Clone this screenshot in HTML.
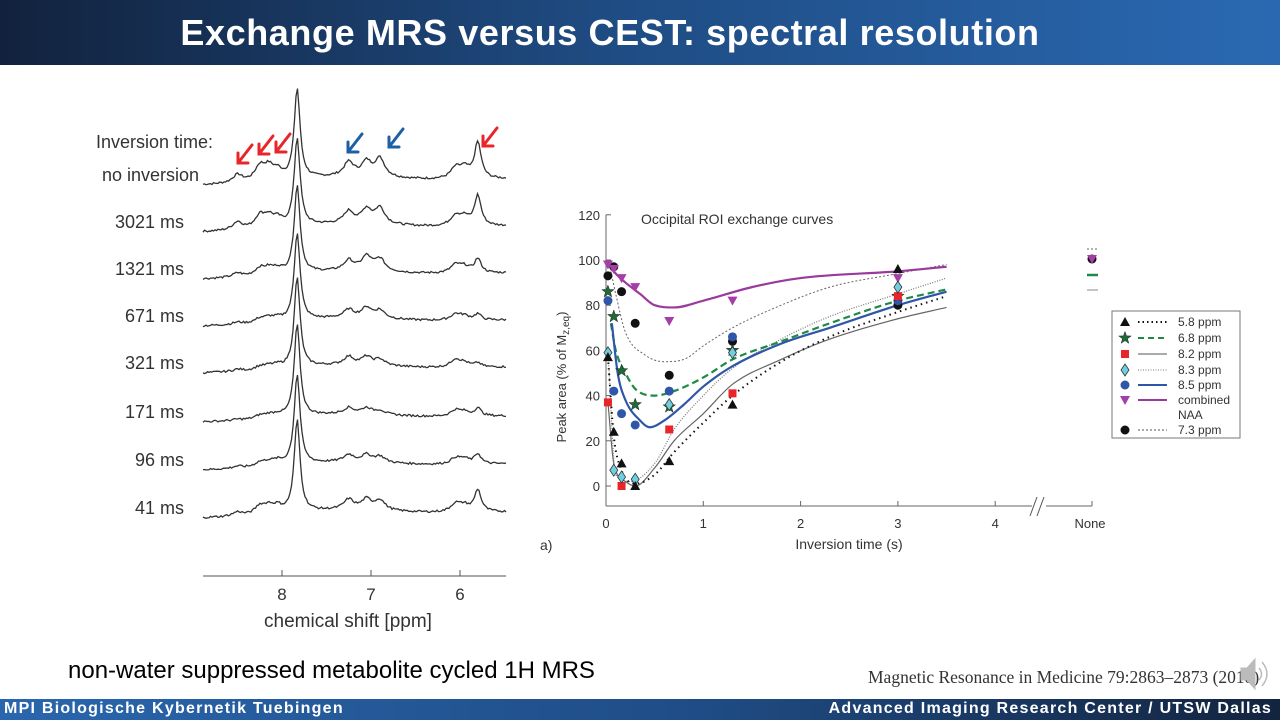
<!DOCTYPE html>
<html><head><meta charset="utf-8">
<style>
html,body{margin:0;padding:0;}
body{width:1280px;height:720px;position:relative;overflow:hidden;background:#fff;font-family:"Liberation Sans",sans-serif;}
#hdr{position:absolute;left:0;top:0;width:1280px;height:65px;background:linear-gradient(90deg,#12223d 0%,#1e4a80 45%,#2a69b2 100%);}
#title{position:absolute;left:0;width:1220px;top:12px;text-align:center;color:#fff;font-weight:bold;font-size:36px;letter-spacing:0.6px;}
#ftr{position:absolute;left:0;top:699px;width:1280px;height:21px;background:linear-gradient(90deg,#2a66ae 0%,#1f4c85 55%,#13243f 100%);}
.ft{position:absolute;top:1px;color:#fff;font-weight:bold;font-size:16px;letter-spacing:1.25px;}
#sub{position:absolute;left:68px;top:657px;font-size:24px;color:#000;}
#cite{position:absolute;left:868px;top:667px;font-family:"Liberation Serif",serif;font-size:17.5px;color:#333;}
svg{position:absolute;left:0;top:0;}
</style></head><body>
<div id="hdr"><div id="title">Exchange MRS versus CEST: spectral resolution</div></div>
<div id="sub">non-water suppressed metabolite cycled 1H MRS</div>
<div id="cite">Magnetic Resonance in Medicine 79:2863–2873 (2018)</div>
<div id="ftr">
<div class="ft" style="left:4px">MPI Biologische Kybernetik Tuebingen</div>
<div class="ft" style="right:8px">Advanced Imaging Research Center / UTSW Dallas</div>
</div>
<svg id="cv" width="1280" height="720"></svg>
<script>
// ---------- spectra data ----------
const traceLabels=["no inversion","3021 ms","1321 ms","671 ms","321 ms","171 ms","96 ms","41 ms"];
const traceBase=[185,232,279,326,373,422,470,518];
const peakPpm=[8.5,8.25,8.15,8.05,7.83,7.25,7.05,6.9,6.05,5.95,5.8];
const peakHeights=[
[8,14,12,8,90,14,14,18,10,10,36],
[8,12,10,7,88,12,14,16,10,8,30],
[4,7,6,5,88,10,14,12,8,6,14],
[2,4,4,3,88,8,10,8,6,4,6],
[2,3,3,3,90,8,8,6,8,4,4],
[1,3,3,3,92,6,6,4,6,4,8],
[2,4,4,4,90,7,7,6,6,5,10],
[4,8,7,6,92,10,10,10,8,6,22]];
// ---------- exchange curve data ----------
const tPts=[0.02,0.08,0.16,0.3,0.65,1.3,3];
const yTicks=[0,20,40,60,80,100,120];
const xTicks=[0,1,2,3,4];
const s58=[57,24,10,0,11,36,96];
const s68=[86,75,51,36,35,60,84];
const s82T=[0.02,0.16,0.65,1.3,3];
const s82=[37,0,25,41,84];
const s83=[59,7,4,3,36,59,88];
const s85=[82,42,32,27,42,66,82];
const sComb=[98,96,92,88,73,82,92];
const s73=[93,97,86,72,49,64,80];
const fT58=[0.02,0.08,0.15,0.3,0.5,0.7,1,1.3,1.8,2.3,3,3.5];
const fV58=[57,22,8,1,5,15,28,40,55,66,77,84];
const fT68=[0.05,0.1,0.2,0.3,0.5,0.7,1,1.3,1.8,2.3,3,3.5];
const fV68=[72,60,50,43,40,42,48,56,64,72,82,87];
const fT82=[0.02,0.08,0.2,0.3,0.5,0.7,1,1.3,1.8,2.3,3,3.5];
const fV82=[37,10,2,0,8,20,32,45,56,65,74,79];
const fT83=[0.02,0.1,0.25,0.5,0.7,1,1.3,1.8,2.3,3,3.5];
const fV83=[60,5,2,10,25,40,52,65,75,85,92];
const fT85=[0.06,0.12,0.2,0.35,0.45,0.6,0.8,1,1.3,1.8,2.3,3,3.5];
const fV85=[72,50,38,29,26,29,36,44,53,63,70,80,86];
const fTC=[0.02,0.1,0.2,0.35,0.5,0.7,1,1.5,2,3,3.5];
const fVC=[98,94,90,85,80,79,82,88,92,95,97];
const fT73=[0.05,0.1,0.2,0.4,0.6,0.8,1,1.3,1.8,2.3,3,3.5];
const fV73=[95,85,68,58,55,56,62,70,80,88,94,98];

const NS="http://www.w3.org/2000/svg";
const svg=document.getElementById('cv');
function mk(tag,at,parent){const e=document.createElementNS(NS,tag);for(const k in at)e.setAttribute(k,at[k]);(parent||svg).appendChild(e);return e;}
function tx(x,y,s,size,anchor,fill,parent){const e=mk('text',{x:x,y:y,'font-size':size,'text-anchor':anchor||'start',fill:fill||'#333','font-family':'"Liberation Sans",sans-serif'},parent);e.textContent=s;return e;}

// ---------- spectra ----------
const gS=mk('g',{});


const ppmX=p=>282+(8-p)*89;
let seed=7;function rnd(){seed=(seed*9301+49297)%233280;return seed/233280-0.5;}
traceLabels.forEach((lab,i)=>{
  let d='';
  for(let x=203;x<=507;x+=1.5){
    let y=0;
    peakPpm.forEach((p,j)=>{const w=(j==4?3.5:(j==10?4:6));const dx=(x-ppmX(p))/w;y+=peakHeights[i][j]/(1+dx*dx);});
    y+=5*Math.exp(-Math.pow((x-340)/70,2))+(x-203)*0.02;
    y+=rnd()*2;
    d+=(d?'L':'M')+x.toFixed(1)+' '+(traceBase[i]-y).toFixed(1);
  }
  const p=mk('path',{d:d,fill:'none',stroke:'#333','stroke-width':1.3},gS);
  
  
  const t=tx(i==0?199:184,traceBase[i]-4,lab,18,'end','#333',gS);
  
  
});
const it=tx(96,148,'Inversion time:',18,'start','#333',gS);


mk('line',{x1:203,y1:576,x2:506,y2:576,stroke:'#555','stroke-width':1},gS);
[8,7,6].forEach(p=>{mk('line',{x1:ppmX(p),y1:576,x2:ppmX(p),y2:570,stroke:'#555'},gS);const t=tx(ppmX(p),600,String(p),17,'middle','#333',gS);});
const xl=tx(348,627,'chemical shift [ppm]',19,'middle','#333',gS);


function arrow(x,y,col){const g=mk('g',{stroke:col,'stroke-width':3,fill:'none','stroke-linecap':'round'},gS);
 
 
 mk('line',{x1:x+14,y1:y-18,x2:x,y2:y},g);mk('polyline',{points:(x)+','+(y-10)+' '+x+','+y+' '+(x+10)+','+y},g);}
arrow(238,163,'#e8262a');arrow(259,154,'#e8262a');arrow(276,152,'#e8262a');arrow(483,146,'#e8262a');
arrow(348,152,'#1d5fa5');arrow(389,147,'#1d5fa5');

// ---------- exchange chart ----------
const gC=mk('g',{});


const X=t=>606+t*97.3, Y=v=>486-v*2.26;
mk('line',{x1:606,y1:Y(120),x2:606,y2:506,stroke:'#666'},gC);
mk('line',{x1:606,y1:506,x2:1032,y2:506,stroke:'#666'},gC);
mk('line',{x1:1046,y1:506,x2:1092,y2:506,stroke:'#666'},gC);
mk('line',{x1:1030,y1:516,x2:1037,y2:497,stroke:'#555'},gC);
mk('line',{x1:1037,y1:516,x2:1044,y2:497,stroke:'#555'},gC);
yTicks.forEach(v=>{mk('line',{x1:606,y1:Y(v),x2:611,y2:Y(v),stroke:'#666'},gC);const t=tx(600,Y(v)+5,String(v),13,'end','#333',gC);});
xTicks.forEach(v=>{mk('line',{x1:X(v),y1:506,x2:X(v),y2:501,stroke:'#666'},gC);const t=tx(X(v),528,String(v),13,'middle','#333',gC);});
mk('line',{x1:1092,y1:506,x2:1092,y2:501,stroke:'#666'},gC);
const nn=tx(1090,528,'None',13,'middle','#333',gC);
const xt=tx(849,549,'Inversion time (s)',14,'middle','#333',gC);
const al=tx(540,550,'a)',14,'start','#333',gC);
const ct=tx(641,224,'Occipital ROI exchange curves',14,'start','#333',gC);
const yt=mk('text',{x:0,y:0,'font-size':13,fill:'#333','text-anchor':'middle',transform:'translate(566,377) rotate(-90)','font-family':'"Liberation Sans",sans-serif'},gC);
yt.innerHTML='Peak area (% of M<tspan font-size="10" dy="3">z,eq</tspan><tspan dy="-3">)</tspan>';



// monotone cubic interpolation in data space
function curve(ts,vs,col,w,dash,name){
 const n=ts.length,dl=[],m=[];
 for(let i=0;i<n-1;i++)dl.push((vs[i+1]-vs[i])/(ts[i+1]-ts[i]));
 m[0]=dl[0];m[n-1]=dl[n-2];
 for(let i=1;i<n-1;i++)m[i]=(dl[i-1]*dl[i]<=0)?0:(dl[i-1]+dl[i])/2;
 for(let i=0;i<n-1;i++){if(dl[i]==0){m[i]=m[i+1]=0;continue;}const a=m[i]/dl[i],b=m[i+1]/dl[i],s=a*a+b*b;if(s>9){const t=3/Math.sqrt(s);m[i]=t*a*dl[i];m[i+1]=t*b*dl[i];}}
 let d='M'+X(ts[0])+' '+Y(vs[0]);
 for(let i=0;i<n-1;i++){const h=ts[i+1]-ts[i];
  d+='C'+X(ts[i]+h/3)+' '+Y(vs[i]+m[i]*h/3)+' '+X(ts[i+1]-h/3)+' '+Y(vs[i+1]-m[i+1]*h/3)+' '+X(ts[i+1])+' '+Y(vs[i+1]);}
 const e=mk('path',{d:d,fill:'none',stroke:col,'stroke-width':w,'stroke-dasharray':dash||'none'},gC);
 
 }
curve(fT73,fV73,'#666',1,'2,2','fit-7-3ppm');
curve(fT82,fV82,'#666',1.2,'','fit-8-2ppm');
curve(fT83,fV83,'#777',1.2,'1,1.5','fit-8-3ppm');
curve(fT58,fV58,'#111',2,'1.5,4','fit-5-8ppm');
curve(fT68,fV68,'#1f8a44',2.2,'7,4','fit-6-8ppm');
curve(fT85,fV85,'#2f56a8',2.2,'','fit-8-5ppm');
curve(fTC,fVC,'#9a3a9e',2.2,'','fit-combined');

function marker(type,x,y,parent){let e;
 if(type=='tri')e=mk('polygon',{points:`${x},${y-5} ${x-5},${y+4} ${x+5},${y+4}`,fill:'#111'},parent);
 else if(type=='itri')e=mk('polygon',{points:`${x-5},${y-4} ${x+5},${y-4} ${x},${y+5}`,fill:'#a63ea8'},parent);
 else if(type=='sq')e=mk('rect',{x:x-4,y:y-4,width:8,height:8,fill:'#e8262a'},parent);
 else if(type=='dia')e=mk('polygon',{points:`${x},${y-6} ${x+4},${y} ${x},${y+6} ${x-4},${y}`,fill:'#6fcfe0',stroke:'#333','stroke-width':0.8},parent);
 else if(type=='bc')e=mk('circle',{cx:x,cy:y,r:4.5,fill:'#2f56a8'},parent);
 else if(type=='kc')e=mk('circle',{cx:x,cy:y,r:4.5,fill:'#111'},parent);
 else if(type=='star'){let p='';for(let k=0;k<10;k++){const r=k%2?2.6:6.5,a=-Math.PI/2+k*Math.PI/5;p+=(x+r*Math.cos(a)).toFixed(1)+','+(y+r*Math.sin(a)).toFixed(1)+' ';}e=mk('polygon',{points:p,fill:'#1d6b35',stroke:'#222','stroke-width':0.5},parent);}
 return e;}
function pts(ts,vs,type,name){ts.forEach((t,i)=>{const e=marker(type,X(t),Y(vs[i]),gC);
 
 });}
pts(tPts,s73,'kc','point-7-3ppm');
pts(tPts,sComb,'itri','point-combined');
pts(tPts,s85,'bc','point-8-5ppm');
pts(tPts,s68,'star','point-6-8ppm');
pts(s82T,s82,'sq','point-8-2ppm');
pts(tPts,s83,'dia','point-8-3ppm');
pts(tPts,s58,'tri','point-5-8ppm');

// "None" column marks
mk('line',{x1:1087,y1:249,x2:1098,y2:249,stroke:'#666','stroke-dasharray':'2,2'},gC);
marker('kc',1092,259,gC);marker('itri',1092,259,gC);
mk('line',{x1:1087,y1:275,x2:1098,y2:275,stroke:'#1f8a44','stroke-width':2.5},gC);
mk('line',{x1:1087,y1:290,x2:1098,y2:290,stroke:'#888','stroke-width':1},gC);

// legend
const gL=mk('g',{},gC);


mk('rect',{x:1112,y:311,width:128,height:127,fill:'#fff',stroke:'#777'},gL);
const legNames=['5.8 ppm','6.8 ppm','8.2 ppm','8.3 ppm','8.5 ppm','combined','7.3 ppm'];
const legY=[322,338,354,370,385,400,430];
const legM=['tri','star','sq','dia','bc','itri','kc'];
const legS=[['#111',2,'1.5,3'],['#1f8a44',2,'6,4'],['#777',1.2,''],['#777',1,'1,1.5'],['#2f56a8',2,''],['#9a3a9e',2,''],['#555',1,'2,2']];
legNames.forEach((n,i)=>{marker(legM[i],1125,legY[i],gL);
 mk('line',{x1:1138,y1:legY[i],x2:1167,y2:legY[i],stroke:legS[i][0],'stroke-width':legS[i][1],'stroke-dasharray':legS[i][2]||'none'},gL);
 const t=tx(1178,legY[i]+4,n,12,'start','#333',gL);
 
 });
const naa=tx(1178,419,'NAA',12,'start','#333',gL);



// speaker icon
const sp=mk('g',{fill:'#bbb',stroke:'#bbb'});


mk('polygon',{points:'1241,668 1247,668 1255,659 1255,689 1247,680 1241,680'},sp);
mk('path',{d:'M1259,668 q5,6 0,12 M1262,662 q10,12 0,24',fill:'none','stroke-width':1.5},sp);
</script>
</body></html>
